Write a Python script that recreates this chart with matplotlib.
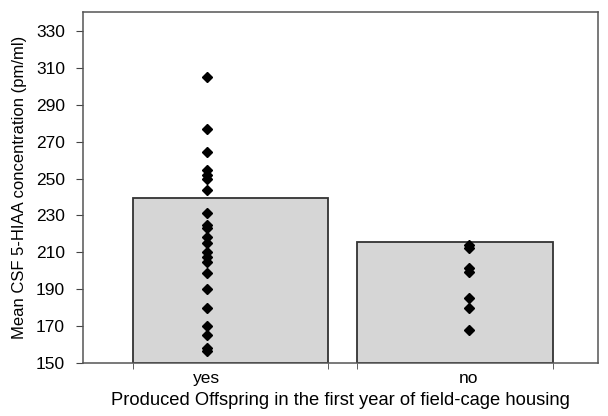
import matplotlib.pyplot as plt

plt.rcParams['font.family'] = ['Liberation Sans', 'DejaVu Sans']

categories = ['yes', 'no']
bar_means = [239.5, 215.5]
yes_values = [305, 277, 264.5, 254.5, 252, 250, 244, 231.5, 225, 223, 218.5,
              215, 210, 207.5, 205, 199, 190, 180, 170, 165, 158, 156.5]
no_values = [214, 212.5, 201.5, 199.5, 185, 180, 168]
y_ticks = list(range(150, 331, 20))

# bars sit a bit off the category centre in the original figure
bar_left = [-0.282, 0.573]
bar_width = [0.744, 0.748]

fig = plt.figure(figsize=(6.08, 4.16), dpi=100)
ax = fig.add_axes([0.1365, 0.1274, 0.847, 0.8438])

ax.bar(bar_left, [m - 150 for m in bar_means], width=bar_width, bottom=150,
       align='edge', color='#d6d6d6', edgecolor='#333333', linewidth=1.3, zorder=2)

for i, vals in enumerate([yes_values, no_values]):
    ax.plot([i] * len(vals), vals, linestyle='none', marker='D', markersize=5,
            color='black', zorder=3)

ax.set_xlim(-0.473, 1.492)
ax.set_ylim(150, 340.3)
ax.set_yticks(y_ticks)
ax.set_xticks([0, 1])
ax.set_xticklabels(categories)
edges = []
for l, w in zip(bar_left, bar_width):
    edges += [l, l + w]
ax.set_xticks(edges, minor=True)
ax.tick_params(axis='x', which='major', length=0, pad=6, labelsize=12.5)
ax.tick_params(axis='x', which='minor', length=4, color='#444444')
ax.tick_params(axis='y', length=5, color='#444444', labelsize=12.5, pad=8)

for s in ax.spines.values():
    s.set_color('#555555')
    s.set_linewidth(1.1)

ax.set_xlabel('Produced Offspring in the first year of field-cage housing', fontsize=13.2, labelpad=4)
ax.set_ylabel('Mean CSF 5-HIAA concentration (pm/ml)', fontsize=12, labelpad=6)

fig.savefig('out.png', dpi=100)
